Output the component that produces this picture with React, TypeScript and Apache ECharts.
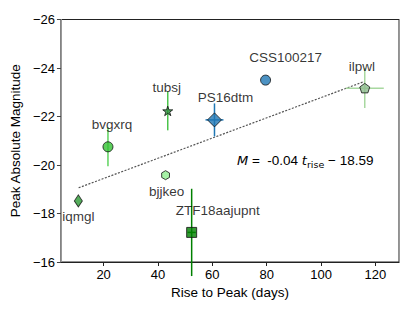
import React, { useEffect, useRef } from "react";
import * as echarts from "echarts";

const names = ["iqmgl", "bvgxrq", "tubsj", "bjjkeo", "ZTF18aajupnt", "PS16dtm", "CSS100217", "ilpwl"];
const riseDays = [10.7, 21.6, 43.6, 42.8, 52.4, 60.8, 79.6, 116.1];
const peakMag = [-18.52, -20.75, -22.23, -19.58, -17.22, -21.86, -23.5, -23.17];
const riseErr = [0, 0, 0, 0, 1.5, 3.3, 0, 7];
const magErr = [0, 0.8, 0.8, 0, 1.8, 0.68, 0, 0.82];
const fitLine = [
  [10.8, -19.06],
  [116.1, -23.45],
];
const xTicks = [20, 40, 60, 80, 100, 120];

const STAR = "path://M50,0 L61.8,35.1 L97.6,35.1 L68.8,56.7 L79.4,90.5 L50,69.1 L20.6,90.5 L31.2,56.7 L2.4,35.1 L38.2,35.1 Z";
const HEX = "path://M50,0 L93.3,25 L93.3,75 L50,100 L6.7,75 L6.7,25 Z";
const PENT = "path://M50,0 L97.6,34.5 L79.4,90.5 L20.6,90.5 L2.4,34.5 Z";

const markers = [
  { symbol: "diamond", size: [8, 12], color: "#2a9a33", err: "#2a9a33", label: [0, 16] },
  { symbol: "circle", size: 10, color: "#33c233", err: "#5fd35f", label: [4, -22] },
  { symbol: STAR, size: 10, color: "#2a8f3a", err: "#4cc44c", label: [-1, -23] },
  { symbol: HEX, size: 9, color: "#90ee90", err: "#90ee90", label: [1, 16] },
  { symbol: "rect", size: 10, color: "#008000", err: "#008000", label: [26, -22] },
  { symbol: "diamond", size: 14, color: "#1f77b4", err: "#1f77b4", label: [11, -22] },
  { symbol: "circle", size: 10, color: "#1f77b4", err: "#1f77b4", label: [20, -23] },
  { symbol: PENT, size: 10, color: "#8fbc8f", err: "#a8d8a0", label: [-3, -22] },
];

const FONT = "Liberation Sans, Arial, sans-serif";
const minus = (v: number) => String(v).replace("-", "\u2212");

export default function App() {
  const ref = useRef<HTMLDivElement>(null);
  useEffect(() => {
    if (!ref.current) return;
    const chart = echarts.init(ref.current, null, { renderer: "svg" });
    const errData = names.map((n, i) => ({
      value: [riseDays[i], peakMag[i], riseErr[i], magErr[i]],
      itemStyle: { color: markers[i].err },
    }));
    const pts = names.map((n, i) => ({
      name: n,
      value: [riseDays[i], peakMag[i]],
      symbol: markers[i].symbol,
      symbolSize: markers[i].size,
      symbolKeepAspect: true,
      itemStyle: { color: markers[i].color, borderColor: "#111", borderWidth: 1 },
      label: { offset: markers[i].label },
    }));
    chart.setOption({
      animation: false,
      grid: { left: 60, top: 19.5, right: 17, bottom: 50, show: true, borderColor: "#222", borderWidth: 1 },
      xAxis: {
        type: "value",
        min: 4.3,
        max: 128.7,
        name: "Rise to Peak (days)",
        nameLocation: "middle",
        nameGap: 21,
        nameTextStyle: { fontFamily: FONT, fontSize: 13.5, color: "#000" },
        axisLine: { show: true, lineStyle: { color: "#222" } },
        axisTick: { show: true, length: 4, inside: false, customValues: xTicks, lineStyle: { color: "#222" } },
        axisLabel: { customValues: xTicks, fontFamily: FONT, fontSize: 13, color: "#000", margin: 6 },
        splitLine: { show: false },
      },
      yAxis: [
        {
          type: "value",
          inverse: true,
          min: -26,
          max: -16,
          interval: 2,
          name: "Peak Absolute Magnitude",
          nameLocation: "middle",
          nameGap: 37,
          nameTextStyle: { fontFamily: FONT, fontSize: 13.5, color: "#000" },
          axisLine: { show: true, lineStyle: { color: "#999" } },
          axisTick: { show: true, length: 4, lineStyle: { color: "#444" } },
          axisLabel: { fontFamily: FONT, fontSize: 13, color: "#000", margin: 6, formatter: minus },
          splitLine: { show: false },
        },
        {
          type: "value",
          position: "right",
          inverse: true,
          min: -26,
          max: -16,
          interval: 2,
          axisLine: { show: true, lineStyle: { color: "#999" } },
          axisTick: { show: false },
          axisLabel: { show: false },
          splitLine: { show: false },
        },
      ],
      series: [
        {
          type: "line",
          data: fitLine,
          symbol: "none",
          lineStyle: { color: "#555", width: 1.2, type: [2, 1.5] },
          z: 1,
        },
        {
          type: "custom",
          clip: false,
          z: 2,
          data: errData,
          renderItem: (params: any, api: any) => {
            const x = api.value(0), y = api.value(1), ex = api.value(2), ey = api.value(3);
            const color = api.visual("color");
            const children: any[] = [];
            const st = { stroke: color, lineWidth: 1.5 };
            if (ey > 0) {
              const a = api.coord([x, y - ey]);
              const b = api.coord([x, y + ey]);
              children.push({ type: "line", shape: { x1: a[0], y1: a[1], x2: b[0], y2: b[1] }, style: st });
            }
            if (ex > 0) {
              const a = api.coord([x - ex, y]);
              const b = api.coord([x + ex, y]);
              children.push({ type: "line", shape: { x1: a[0], y1: a[1], x2: b[0], y2: b[1] }, style: st });
            }
            return { type: "group", children };
          },
        },
        {
          type: "scatter",
          z: 3,
          data: pts,
          label: {
            show: true,
            position: "inside",
            formatter: "{b}",
            fontFamily: FONT,
            fontSize: 13.5,
            color: "#000",
          },
        },
      ],
      graphic: [
        {
          type: "text",
          left: 237,
          top: 153,
          style: {
            text: "{i|M} =  -0.04 {i|t}{s|rise} \u2212 18.59",
            fontFamily: FONT,
            fontSize: 13.5,
            fill: "#000",
            rich: {
              i: { fontStyle: "italic", fontFamily: "DejaVu Sans", fontSize: 13, lineHeight: 18, verticalAlign: "middle" },
              s: { fontFamily: "DejaVu Sans", fontSize: 9.5, lineHeight: 18, verticalAlign: "bottom", padding: [6, 0, 0, 0] },
            },
          },
        },
      ],
    });
    return () => chart.dispose();
  }, []);
  return <div ref={ref} style={{ position: "absolute", left: 0, top: 0, width: 416, height: 312 }} />;
}
